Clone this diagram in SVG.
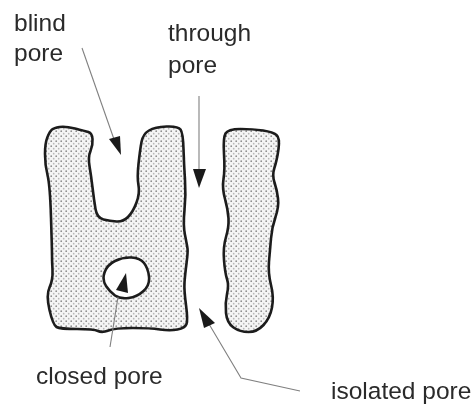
<svg xmlns="http://www.w3.org/2000/svg" width="475" height="405" viewBox="0 0 475 405">
<style>
text{font-family:"Liberation Sans",Arial,sans-serif;font-size:24.5px;fill:#2a2a2a}
.body{fill:url(#stipple);stroke:#1c1c1c;stroke-width:2.6;stroke-linejoin:round}
.pore{fill:#fff;stroke:#1c1c1c;stroke-width:2.6;stroke-linejoin:round}
.lead{fill:none;stroke:#808080;stroke-width:1.1}
.head{fill:#1a1a1a;stroke:none}
</style>
<defs>
<pattern id="stipple" width="5" height="5" patternUnits="userSpaceOnUse">
<rect width="5" height="5" fill="#f5f5f5"/>
<circle cx="1.2" cy="1.2" r="0.85" fill="#8a8a8a"/>
<circle cx="3.7" cy="3.7" r="0.85" fill="#b8b8b8"/>
</pattern>
<filter id="soft" x="-5%" y="-5%" width="110%" height="110%"><feGaussianBlur stdDeviation="0.4"/></filter>
</defs>
<rect width="475" height="405" fill="#fff"/>
<g id="main-body" filter="url(#soft)">
<path class="body" d="M47.5 137Q50 131 52 129.5Q54 128 59.5 127Q65 126 75 128.5Q85 131 88.5 132Q92 133 92.5 139Q93 145 90.5 151Q88 157 89.5 166Q91 175 92.5 187.5Q94 200 95.5 209Q97 218 103.5 219.5Q110 221 116.5 221.5Q123 222 128 217Q133 212 136.5 202.5Q140 193 138.5 185.5Q137 178 138.5 164Q140 150 141.5 142Q143 134 149 130.5Q155 127 166.5 126.5Q178 126 180.5 129.5Q183 133 183.5 149Q184 165 185 180Q186 195 184.5 210Q183 225 185 235Q187 245 187.5 248.5Q188 252 186.5 263.5Q185 275 184.5 282.5Q184 290 186 305Q188 320 186.5 324Q185 328 177.5 329.5Q170 331 160 329.5Q150 328 132.5 328Q115 328 108.5 330.5Q102 333 98 331Q94 329 77 329Q60 329 56.5 327Q53 325 49.5 310Q46 295 49.5 287.5Q53 280 52.5 270Q52 260 52 255Q52 250 51 217.5Q50 185 47.5 175Q45 165 45 154Q45 143 47.5 137Z"/>
</g>
<g id="closed-pore" filter="url(#soft)">
<path class="pore" d="M106 286Q102 280 104.5 272.5Q107 265 115 261Q123 257 131.5 257.5Q140 258 144 263Q148 268 149 276.5Q150 285 143.5 291Q137 297 128.5 298Q120 299 115 295.5Q110 292 106 286Z"/>
</g>
<g id="isolated-body" filter="url(#soft)">
<path class="body" d="M240.5 129Q228 129 225.5 133.5Q223 138 224 154Q225 170 223.5 179Q222 188 225 199Q228 210 228.5 218.5Q229 227 226 237Q223 247 224 260Q225 273 227 279Q229 285 227 294Q225 303 226 313Q227 323 233.5 327.5Q240 332 248.5 332Q257 332 263.5 325Q270 318 272 307.5Q274 297 271 285Q268 273 269 261.5Q270 250 271 238.5Q272 227 275.5 217Q279 207 278 198.5Q277 190 274.5 182.5Q272 175 274.5 167.5Q277 160 278.5 149Q280 138 276.5 135Q273 132 263 130.5Q253 129 240.5 129Z"/>
</g>
<g id="connectors">
<path class="lead" d="M82 48L116 145"/>
<polygon class="head" points="121,155 109,139 120,136"/>
<path class="lead" d="M199 96V170"/>
<polygon class="head" points="199,188 193,169 206,169"/>
<path class="lead" d="M110 347L118 297"/>
<polygon class="head" points="126,273 116,290 128,293"/>
<path class="lead" d="M209 324L241 378L300 391"/>
<polygon class="head" points="199,308 204,328 215,323"/>
</g>
<g id="labels" filter="url(#soft)">
<text x="14" y="31">blind</text>
<text x="14" y="61">pore</text>
<text x="168" y="41">through</text>
<text x="168" y="73">pore</text>
<text x="36" y="384">closed pore</text>
<text x="331" y="399">isolated pore</text>
</g>
</svg>
